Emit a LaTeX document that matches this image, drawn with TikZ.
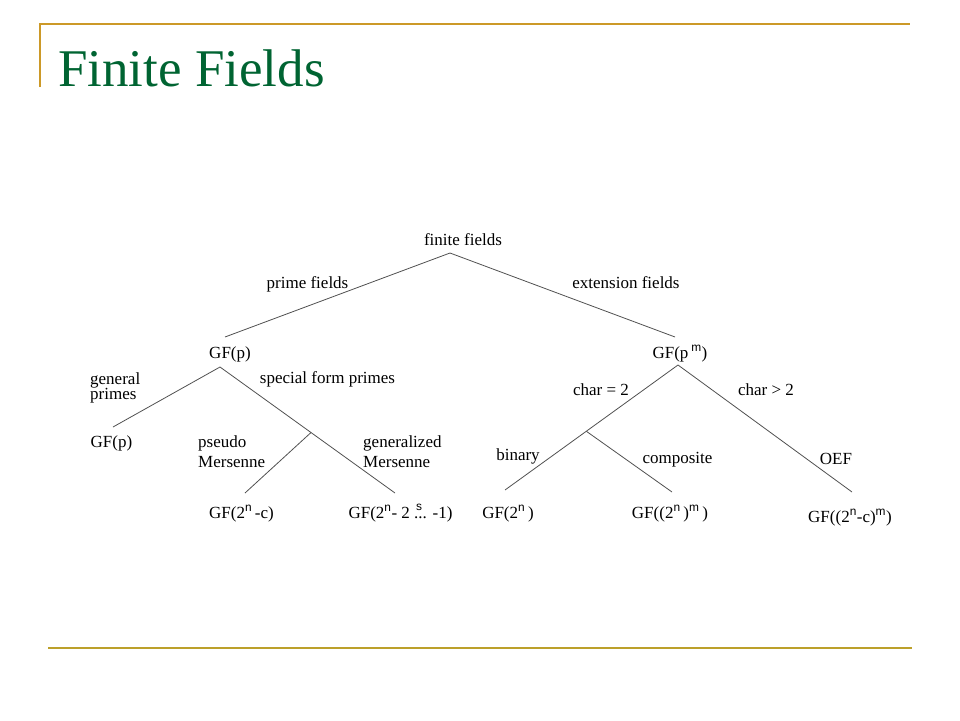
\documentclass[tikz,border=0pt]{standalone}
\usepackage{fontspec}
\setmainfont{Liberation Serif}
\newfontfamily\supfont{Liberation Sans}
\usepackage{xcolor}
\usepackage{tikz}
\usetikzlibrary{calc, positioning}

\definecolor{titlegreen}{RGB}{0,100,50}
\definecolor{rulegold}{RGB}{204,153,40}
\definecolor{rulegoldb}{RGB}{188,160,42}
\definecolor{edgegray}{RGB}{80,80,80}
\newcommand{\supx}[1]{\textsuperscript{\supfont #1}}

\tikzset{
  lbl/.style={inner sep=0pt, anchor=base, font=\fontsize{17}{20}\selectfont},
  lbltwo/.style={lbl, anchor=north west, align=left},
  edge/.style={draw=edgegray, line width=0.8pt},
}

\begin{document}
\begin{tikzpicture}[x=1pt, y=-1pt]
    \useasboundingbox (0,0) rectangle (960,720);

    % frame
    \draw[rulegold, line width=2pt] (40,87) -- (40,24) -- (910,24);
    \draw[rulegoldb, line width=2.5pt] (48,648) -- (912,648);
    \node[anchor=base west, inner sep=0pt, text=titlegreen, font=\fontsize{53}{60}\selectfont] (title) at (58,86) {Finite Fields};

    % fields
    \node[lbl] (ff) at (463,245) {finite fields};
    \node[lbl] (gfp) at (230,358) {GF(p)};
    \node[lbl] (gfpm) at (680,358) {GF(p\,\supx{m})};
    \node[lbl] (gfgen) at (111.5,447) {GF(p)};
    \node[lbl] (gfpsm) at (241.5,518) {GF(2\supx{n}\,-c)};
    \node[lbl] (gfgm) at (400.5,518) {GF(2\supx{n}- 2\ \rlap{\hspace{2pt}\raisebox{1pt}{\supx{s}}}... -1)};
    \node[lbl] (gfbin) at (508,518) {GF(2\supx{n}\,)};
    \node[lbl] (gfcomp) at (670,518) {GF((2\supx{n}\,)\supx{m}\,)};
    \node[lbl] (gfoef) at (850,522) {GF((2\supx{n}-c)\supx{m})};

    % branch labels
    \node[lbl] (primef) at (307.5,288) {prime fields};
    \node[lbl] (extf) at (626,288) {extension fields};
    \node[lbltwo] (genpr) at (90,372) {general\\[-4.5pt]primes};
    \node[lbl] (special) at (327.5,383) {special form primes};
    \node[lbltwo] (pseudo) at (198,435.5) {pseudo\\Mersenne};
    \node[lbltwo] (generalized) at (363,435.5) {generalized\\Mersenne};
    \node[lbl] (chartwo) at (601,395) {char = 2};
    \node[lbl] (charodd) at (766,395) {char \textgreater{} 2};
    \node[lbl] (binary) at (518,460) {binary};
    \node[lbl] (composite) at (677.5,463) {composite};
    \node[lbl] (oef) at (836,464) {OEF};

    % finite fields
    \draw[edge] ($(ff.base) + (-13,8)$) -- ($(gfp.base) + (-5,-21)$);
    \draw[edge] ($(ff.base) + (-13,8)$) -- ($(gfpm.base) + (-5,-21)$);

    % GF(p)
    \draw[edge] ($(gfp.base) + (-10,9)$) -- ($(gfgen.base) + (1.5,-20)$);
    \draw[edge] ($(gfp.base) + (-10,9)$) -- ($(gfgm.base) + (-5.5,-25)$);
    \coordinate (sfp) at ($($(gfp.base) + (-10,9)$)!0.52!($(gfgm.base) + (-5.5,-25)$)$);
    \draw[edge] (sfp) -- ($(gfpsm.base) + (3.5,-25)$);

    % GF(p^m)
    \draw[edge] ($(gfpm.base) + (-2,7)$) -- ($(gfbin.base) + (-3,-28)$);
    \draw[edge] ($(gfpm.base) + (-2,7)$) -- ($(gfoef.base) + (2,-30)$);
    \coordinate (ctwo) at ($($(gfpm.base) + (-2,7)$)!0.53!($(gfbin.base) + (-3,-28)$)$);
    \draw[edge] (ctwo) -- ($(gfcomp.base) + (2,-26)$);
\end{tikzpicture}
\end{document}
